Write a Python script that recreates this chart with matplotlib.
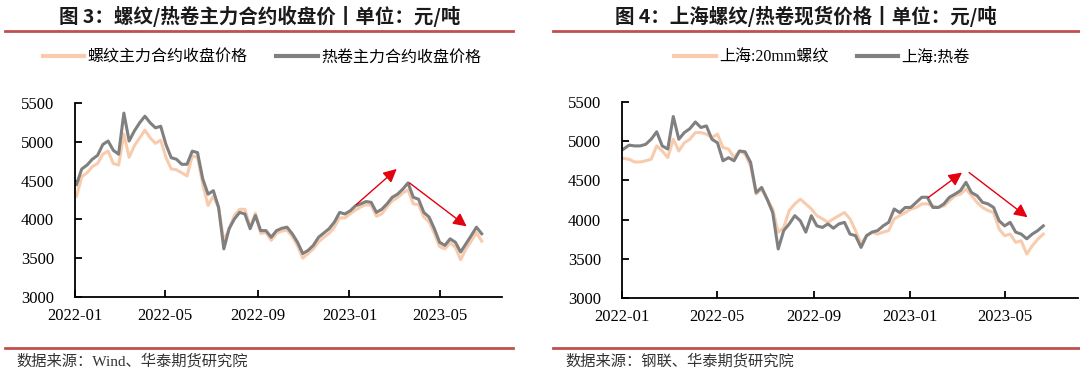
import numpy as np
import matplotlib
matplotlib.use("Agg")
import matplotlib.pyplot as plt
import matplotlib.dates as mdates
import pandas as pd

# weekly closes
rebar_fut = [4300, 4550, 4600, 4680, 4720, 4840, 4880, 4720, 4700, 5100,
             4800, 4950, 5050, 5150, 5050, 4980, 5020, 4800, 4650, 4640,
             4600, 4560, 4820, 4800, 4450, 4180, 4300, 4150, 3720, 3880,
             4050, 4130, 4130, 3900, 4080, 3820, 3830, 3730, 3820, 3850,
             3860, 3780, 3660, 3500, 3560, 3620, 3710, 3770, 3820, 3900,
             4020, 4020, 4070, 4120, 4160, 4190, 4180, 4040, 4070, 4160,
             4240, 4280, 4340, 4380, 4200, 4190, 4030, 3970, 3820, 3650,
             3620, 3700, 3640, 3480, 3620, 3720, 3830, 3720]
hc_fut = [4450, 4650, 4700, 4775, 4825, 4965, 5010, 4890, 4840, 5370,
          5010, 5140, 5245, 5330, 5245, 5180, 5200, 4965, 4795, 4775,
          4710, 4710, 4880, 4860, 4520, 4325, 4370, 4155, 3620, 3880,
          4005, 4090, 4070, 3880, 4050, 3855, 3855, 3770, 3855, 3885,
          3900, 3815, 3705, 3560, 3600, 3665, 3770, 3825, 3880, 3965,
          4090, 4070, 4110, 4175, 4200, 4230, 4220, 4090, 4130, 4200,
          4285, 4325, 4390, 4470, 4285, 4260, 4090, 4030, 3880, 3705,
          3665, 3750, 3705, 3580, 3685, 3790, 3900, 3815]

rebar_spot = [4780, 4770, 4735, 4735, 4750, 4770, 4940, 4875, 4790, 5025,
              4875, 4980, 5025, 5110, 5110, 5090, 5045, 5090, 4920, 4900,
              4790, 4875, 4835, 4685, 4325, 4390, 4260, 4135, 3840, 3900,
              4115, 4200, 4260, 4200, 4135, 4050, 4010, 3965, 4010, 4050,
              4090, 4010, 3860, 3690, 3795, 3840, 3815, 3840, 3860, 4010,
              4050, 4090, 4135, 4155, 4200, 4200, 4175, 4155, 4175, 4240,
              4305, 4325, 4390, 4305, 4220, 4155, 4115, 4090, 3880, 3795,
              3815, 3710, 3730, 3560, 3665, 3750, 3815]
hc_spot = [4900, 4950, 4940, 4940, 4960, 5025, 5120, 4940, 4900, 5315,
           5025, 5110, 5160, 5245, 5175, 5195, 5025, 4980, 4750, 4790,
           4750, 4875, 4865, 4730, 4345, 4410, 4260, 4090, 3625, 3860,
           3945, 4050, 3985, 3840, 4050, 3920, 3900, 3945, 3890, 3945,
           3965, 3815, 3795, 3645, 3795, 3840, 3860, 3920, 3965, 4135,
           4090, 4155, 4155, 4220, 4285, 4285, 4155, 4155, 4200, 4285,
           4325, 4370, 4475, 4345, 4305, 4220, 4200, 4155, 3985, 3920,
           3965, 3840, 3815, 3755, 3815, 3860, 3920]

dates_fut = pd.date_range("2022-01-03", periods=len(hc_fut), freq="7D")
dates_spot = pd.date_range("2022-01-03", periods=len(hc_spot), freq="7D")

titles = ["图 3：螺纹/热卷主力合约收盘价丨单位：元/吨",
          "图 4：上海螺纹/热卷现货价格丨单位：元/吨"]
labels_fut = ["螺纹主力合约收盘价格", "热卷主力合约收盘价格"]
labels_spot = ["上海:20mm螺纹", "上海:热卷"]
sources = ["数据来源：Wind、华泰期货研究院", "数据来源：钢联、华泰期货研究院"]

# arrows (start, end) in data coords
arrows_fut = [(("2023-01-10", 4190), ("2023-03-05", 4650)),
              (("2023-03-22", 4470), ("2023-06-06", 3910))]
arrows_spot = [(("2023-01-24", 4280), ("2023-03-08", 4600)),
               (("2023-03-17", 4600), ("2023-05-30", 4030))]

ORANGE = "#F8CBAD"
GRAY = "#808080"
RED_RULE = "#C0504D"
SERIF = ["Liberation Serif", "Noto Sans CJK SC"]
CJK = ["Noto Sans CJK SC", "DejaVu Sans"]

fig = plt.figure(figsize=(10.8, 3.75), dpi=100)

panels = [
    dict(rect=[75/1080, 1-297/375, 427/1080, 194/375], end="2023-07-23",
         dates=dates_fut, a=rebar_fut, b=hc_fut, labels=labels_fut,
         arrows=arrows_fut, title=titles[0], src=sources[0],
         tx=260/1080, rule=(5/1080, 513/1080), leg_x=262/1080, srcx=16/1080),
    dict(rect=[622/1080, 1-298/375, 456/1080, 196/375], end="2023-08-02",
         dates=dates_spot, a=rebar_spot, b=hc_spot, labels=labels_spot,
         arrows=arrows_spot, title=titles[1], src=sources[1],
         tx=806/1080, rule=(553/1080, 1.0), leg_x=822/1080, srcx=565/1080),
]

for p in panels:
    ax = fig.add_axes(p["rect"])
    la, = ax.plot(p["dates"], p["a"], color=ORANGE, lw=2.2, label=p["labels"][0])
    lb, = ax.plot(p["dates"], p["b"], color=GRAY, lw=2.2, label=p["labels"][1])
    ax.set_ylim(3000, 5500)
    ax.set_yticks(np.arange(3000, 5501, 500))
    ax.set_xlim(pd.Timestamp("2022-01-01"), pd.Timestamp(p["end"]))
    ax.xaxis.set_major_locator(mdates.MonthLocator(bymonth=[1, 5, 9]))
    ax.xaxis.set_major_formatter(mdates.DateFormatter("%Y-%m"))
    for s in ["top", "right"]:
        ax.spines[s].set_visible(False)
    for s in ["left", "bottom"]:
        ax.spines[s].set_linewidth(1.3)
        ax.spines[s].set_color("black")
    ax.tick_params(axis="both", direction="in", length=5, width=1.3,
                   labelsize=12, colors="black")
    ax.tick_params(axis="y", pad=15)
    ax.tick_params(axis="x", pad=8)
    for t in ax.get_xticklabels() + ax.get_yticklabels():
        t.set_fontfamily(SERIF)
    for (x0, y0), (x1, y1) in p["arrows"]:
        ax.annotate("", xy=(pd.Timestamp(x1), y1), xytext=(pd.Timestamp(x0), y0),
                    arrowprops=dict(arrowstyle="-|>", color="#E3000F", lw=1.0,
                                    mutation_scale=20, shrinkA=0, shrinkB=0))
    leg = fig.legend([la, lb], p["labels"], loc="center", ncol=2,
                     bbox_to_anchor=(p["leg_x"], 1-58/375), frameon=False,
                     handlelength=2.6, handletextpad=0.2, columnspacing=1.8,
                     prop=dict(family=SERIF, size=11.5))
    for h in leg.get_lines():
        h.set_linewidth(3)
    fig.text(p["tx"], 1-16/375, p["title"], ha="center", va="center",
             fontsize=14, fontweight="bold", family=CJK, color="#1a1a1a")
    x0, x1 = p["rule"]
    fig.add_artist(plt.Line2D([x0, x1], [1-31/375, 1-31/375], color=RED_RULE, lw=2))
    fig.add_artist(plt.Line2D([x0, x1], [1-348/375, 1-348/375], color=RED_RULE, lw=2))
    fig.text(p["srcx"], 1-361/375, p["src"], ha="left", va="center",
             fontsize=11, family=SERIF, color="#333333")

fig.savefig("out.png", dpi=100)
